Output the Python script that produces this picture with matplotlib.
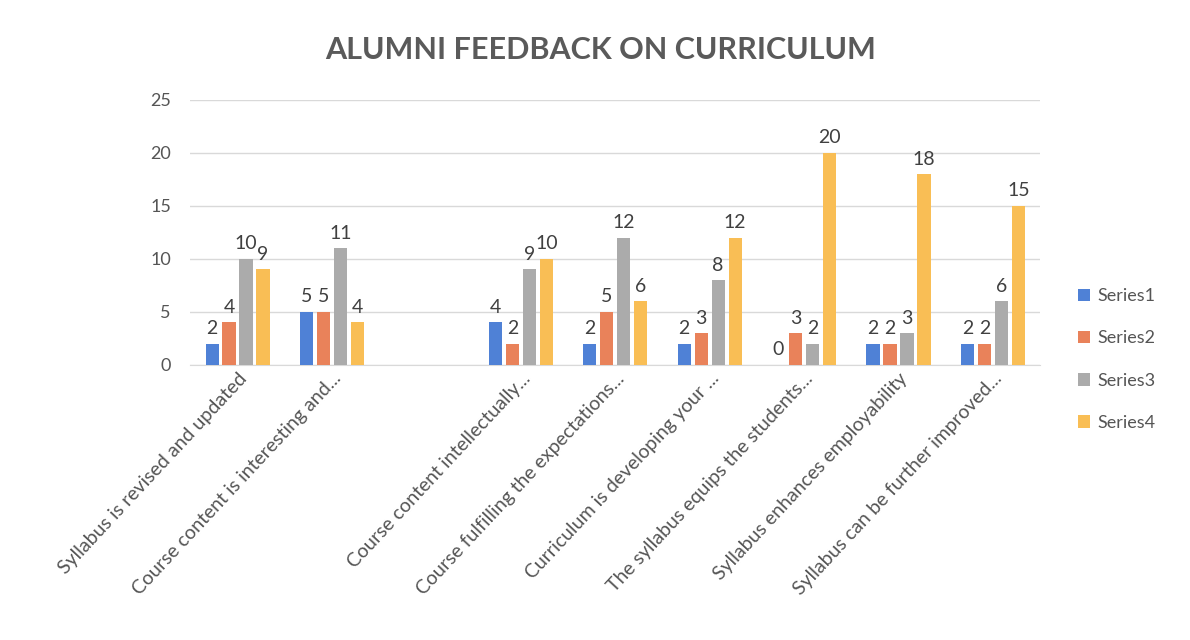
import numpy as np
import matplotlib.pyplot as plt

plt.rcParams['font.family'] = ['Lato', 'DejaVu Sans']

categories = [
    "Syllabus is revised and updated",
    "Course content is interesting and...",
    "",
    "Course content intellectually...",
    "Course fulfilling the expectations...",
    "Curriculum is developing your ...",
    "The syllabus equips the students...",
    "Syllabus enhances employability",
    "Syllabus can be further improved...",
]
series_names = ["Series1", "Series2", "Series3", "Series4"]
series1 = [2, 5, None, 4, 2, 2, 0, 2, 2]
series2 = [4, 5, None, 2, 5, 3, 3, 2, 2]
series3 = [10, 11, None, 9, 12, 8, 2, 3, 6]
series4 = [9, 4, None, 10, 6, 12, 20, 18, 15]
colors = ["#4F81D6", "#E9825A", "#ABABAB", "#F9BE55"]

fig = plt.figure(figsize=(11.9, 6.4), dpi=100)
ax = fig.add_axes([0.16, 0.43, 0.714, 0.414])

x = np.arange(len(categories))
width = 0.14
step = 0.18
for i, (name, vals) in enumerate(zip(series_names, [series1, series2, series3, series4])):
    xs = x + (i - 1.5) * step
    h = [np.nan if v is None else v for v in vals]
    ax.bar(xs, h, width, color=colors[i], label=name, zorder=3)
    for xi, v in zip(xs, vals):
        if v is None:
            continue
        ax.text(xi, v + 0.6, str(v), ha='center', va='bottom',
                fontsize=14, color='#404040')

ax.set_xlim(-0.5, len(categories) - 0.5)
ax.set_ylim(0, 25)
ax.set_yticks(range(0, 26, 5))
ax.yaxis.grid(True, color='#D9D9D9', linewidth=1, zorder=0)
ax.set_axisbelow(True)
for s in ['top', 'right', 'left']:
    ax.spines[s].set_visible(False)
ax.spines['bottom'].set_color('#D9D9D9')
ax.tick_params(axis='both', length=0, labelsize=13, colors='#555555')
ax.tick_params(axis='y', pad=14)
ax.set_xticks(x)
ax.set_xticklabels(categories, rotation=47, ha='right', rotation_mode='anchor',
                   fontsize=14, color='#555555')

fig.text(0.505, 0.922, "ALUMNI FEEDBACK ON CURRICULUM", ha='center', va='center',
         fontsize=22, fontweight='bold', color='#5A5A5A')

ax.legend(loc='center left', bbox_to_anchor=(1.025, 0.02), frameon=False,
          fontsize=13, labelspacing=1.45, handlelength=0.7, handleheight=0.7,
          handletextpad=0.4, labelcolor='#555555')

fig.savefig("out.png", dpi=100)
